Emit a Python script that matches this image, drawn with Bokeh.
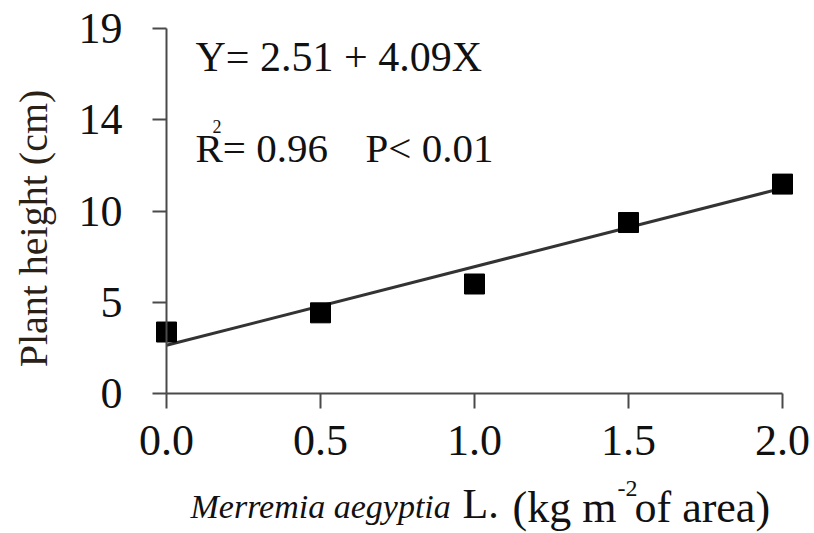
import math
from bokeh.plotting import figure
from bokeh.models import Range1d, FixedTicker, Label
from bokeh.embed import file_html
from bokeh.resources import INLINE

# ---- data ----
dose = [0.0, 0.5, 1.0, 1.5, 2.0]
plant_height = [3.2, 4.2, 5.7, 8.9, 10.9]
intercept = 2.51
slope = 4.09
fit_x = [0.0, 2.0]
fit_y = [intercept + slope * v for v in fit_x]
x_ticks = [0.0, 0.5, 1.0, 1.5, 2.0]
x_tick_labels = ["0.0", "0.5", "1.0", "1.5", "2.0"]
y_ticks = [0.0, 4.75, 9.5, 14.25, 19.0]
y_tick_labels = ["0", "5", "10", "14", "19"]

FONT = "Liberation Serif"
W, H = 814, 533
# pixel positions of the data origin / extents in the page
X0_PX, X2_PX = 166, 782
Y0_PX, Y19_PX = 393, 28
xppu = (X2_PX - X0_PX) / 2.0
yppu = (Y0_PX - Y19_PX) / 19.0

p = figure(width=W, height=H, output_backend="svg", toolbar_location=None,
           x_range=Range1d(-X0_PX / xppu, (W - X0_PX) / xppu),
           y_range=Range1d(-(H - Y0_PX) / yppu, Y0_PX / yppu),
           min_border=0, min_border_left=0, min_border_right=0,
           min_border_top=0, min_border_bottom=0)
p.outline_line_color = None
p.background_fill_color = "white"
p.border_fill_color = "white"
p.xgrid.visible = False
p.ygrid.visible = False

AX = "#4a4a4a"
for ax in (p.xaxis[0], p.yaxis[0]):
    ax.fixed_location = 0
    ax.axis_line_color = AX
    ax.axis_line_width = 2
    ax.major_tick_line_color = AX
    ax.major_tick_line_width = 2
    ax.major_tick_in = 0
    ax.minor_tick_line_color = None
    ax.major_label_text_font = FONT
    ax.major_label_text_font_size = "44px"
    ax.major_label_text_color = "#111111"

xa = p.xaxis[0]
xa.ticker = FixedTicker(ticks=x_ticks)
xa.major_label_overrides = dict(zip(x_ticks, x_tick_labels))
xa.bounds = (0, 2)
xa.major_tick_out = 15
xa.major_label_standoff = 17

ya = p.yaxis[0]
ya.ticker = FixedTicker(ticks=y_ticks)
ya.major_label_overrides = dict(zip(y_ticks, y_tick_labels))
ya.bounds = (0, 19)
ya.major_tick_out = 14
ya.major_label_standoff = 30

p.line(fit_x, fit_y, line_color="#333333", line_width=3)
p.scatter(dose, plant_height, marker="square", size=20,
          fill_color="black", line_color="black")

BASE_FIX = 0.31  # renderer places alphabetic anchor ~0.31em below the baseline


def lab(text, px, py, size, style="normal", align="left", color="#111111"):
    py = py - BASE_FIX * size
    p.add_layout(Label(x=px, y=H - py, x_units="screen", y_units="screen",
                       text=text, text_font=FONT, text_font_size=f"{size}px",
                       text_font_style=style, text_align=align,
                       text_baseline="alphabetic", text_color=color))


# regression annotation
lab("Y= 2.51 + 4.09X", 195, 70, 42)
lab("R= 0.96", 195, 160, 41)
lab("2", 212, 132, 18)
lab("P< 0.01", 365, 160, 41)

# x-axis title
lab("Merremia aegyptia", 190, 517, 34, style="italic")
lab("L.", 462, 517, 42)
lab("(kg m", 512, 521, 44)
lab("-2", 617, 495, 24)
lab("of area)", 634, 521, 44)

# y-axis title (rotated, baseline vertical at x = 45)
ysize = 40
p.add_layout(Label(x=45 - BASE_FIX * ysize, y=H - 228, x_units="screen",
                   y_units="screen", text="Plant height (cm)", text_font=FONT,
                   text_font_size=f"{ysize}px", text_align="center",
                   text_baseline="alphabetic", angle=math.pi / 2,
                   text_color="#2a2015"))

open("out.html", "w").write(file_html(p, INLINE))
